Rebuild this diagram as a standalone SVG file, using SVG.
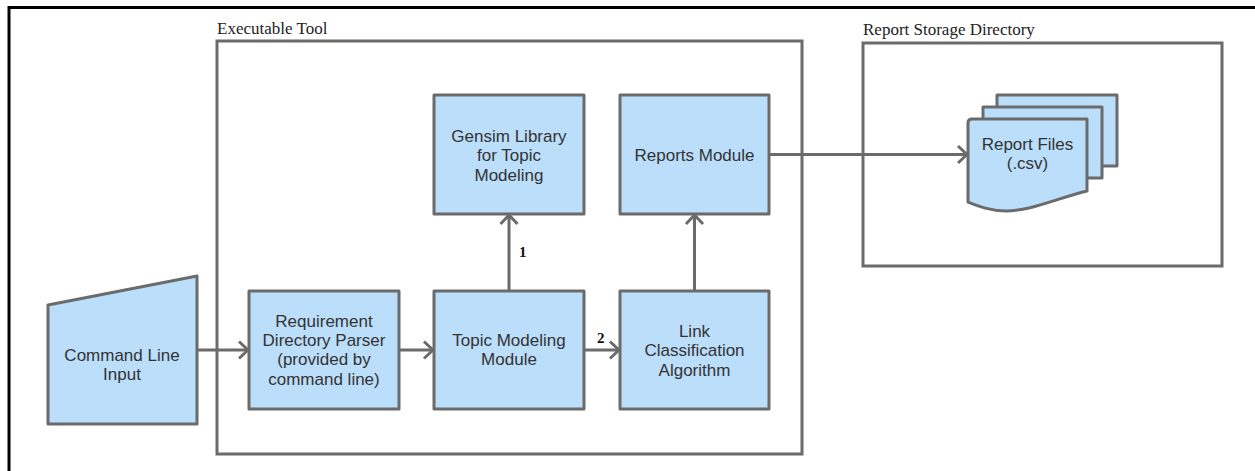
<svg xmlns="http://www.w3.org/2000/svg" width="1255" height="471" viewBox="0 0 1255 471">
  <style>
    .frame { fill: none; stroke: #000; stroke-width: 3; }
    .container { fill: none; stroke: #6b6b6b; stroke-width: 3; }
    .box { fill: #bbdefb; stroke: #6b6b6b; stroke-width: 3; stroke-linejoin: round; }
    .label { font-family: "Liberation Sans", Arial, sans-serif; font-size: 17px; fill: #333; text-anchor: middle; dominant-baseline: central; }
    .title { font-family: "Liberation Serif", "Times New Roman", serif; font-size: 17px; fill: #222; }
    .num { font-family: "Liberation Serif", "Times New Roman", serif; font-size: 15px; font-weight: bold; fill: #111; }
    .edge { fill: none; stroke: #6b6b6b; stroke-width: 3; }
  </style>
  <defs>
    <marker id="chevron" markerUnits="userSpaceOnUse" viewBox="-12 -12 24 24" markerWidth="24" markerHeight="24" refX="0" refY="0" orient="auto">
      <path d="M-9,-8.5 L0,0 L-9,8.5" fill="none" stroke="#6b6b6b" stroke-width="3" stroke-linejoin="round"/>
    </marker>
  </defs>
  <rect width="1255" height="471" fill="#fff"/>

  <!-- page frame (top and left edges) -->
  <path class="frame" d="M9,471 V7.5 H1255"/>

  <!-- containers -->
  <g id="executable-tool">
    <rect class="container" x="217" y="41" width="585" height="413"/>
    <text class="title" x="217" y="34">Executable Tool</text>
  </g>
  <g id="report-storage">
    <rect class="container" x="863" y="43" width="359" height="223"/>
    <text class="title" x="863" y="35">Report Storage Directory</text>
  </g>

  <!-- connectors -->
  <g id="connectors">
    <line class="edge" x1="197" y1="350" x2="248" y2="350" marker-end="url(#chevron)"/>
    <line class="edge" x1="399" y1="350" x2="433" y2="350" marker-end="url(#chevron)"/>
    <line class="edge" x1="584" y1="350" x2="619" y2="350" marker-end="url(#chevron)"/>
    <line class="edge" x1="509" y1="291" x2="509" y2="215" marker-end="url(#chevron)"/>
    <line class="edge" x1="694.5" y1="291" x2="694.5" y2="215" marker-end="url(#chevron)"/>
    <line class="edge" x1="769" y1="154.5" x2="967" y2="154.5" marker-end="url(#chevron)"/>
    <text class="num" x="519" y="257">1</text>
    <text class="num" x="597" y="343">2</text>
  </g>

  <!-- nodes -->
  <g id="command-line-input">
    <polygon class="box" points="48,305 197,276 197,424 48,424"/>
    <text class="label" x="122" y="355">Command Line</text>
    <text class="label" x="122" y="374.5">Input</text>
  </g>
  <g id="directory-parser">
    <rect class="box" x="249" y="291" width="150" height="118"/>
    <text class="label" x="324" y="321">Requirement</text>
    <text class="label" x="324" y="340">Directory Parser</text>
    <text class="label" x="324" y="359.5">(provided by</text>
    <text class="label" x="324" y="379">command line)</text>
  </g>
  <g id="topic-modeling-module">
    <rect class="box" x="434" y="291" width="150" height="118"/>
    <text class="label" x="509" y="340.5">Topic Modeling</text>
    <text class="label" x="509" y="359.5">Module</text>
  </g>
  <g id="link-classification">
    <rect class="box" x="620" y="291" width="149" height="118"/>
    <text class="label" x="694.5" y="331">Link</text>
    <text class="label" x="694.5" y="350.5">Classification</text>
    <text class="label" x="694.5" y="370">Algorithm</text>
  </g>
  <g id="gensim-library">
    <rect class="box" x="434" y="95" width="150" height="119"/>
    <text class="label" x="509" y="136">Gensim Library</text>
    <text class="label" x="509" y="155.5">for Topic</text>
    <text class="label" x="509" y="175">Modeling</text>
  </g>
  <g id="reports-module">
    <rect class="box" x="620" y="95" width="149" height="119"/>
    <text class="label" x="694.5" y="155">Reports Module</text>
  </g>
  <g id="report-files">
    <rect class="box" x="997" y="95" width="120" height="71"/>
    <rect class="box" x="983" y="107" width="119" height="71"/>
    <path class="box" d="M972,119 H1087 V191 C1055,199 1030,211 1006,211 C990,211 978,206 968,202 V123 Q968,119 972,119 Z"/>
    <text class="label" x="1027.5" y="144">Report Files</text>
    <text class="label" x="1027.5" y="163">(.csv)</text>
  </g>
</svg>
